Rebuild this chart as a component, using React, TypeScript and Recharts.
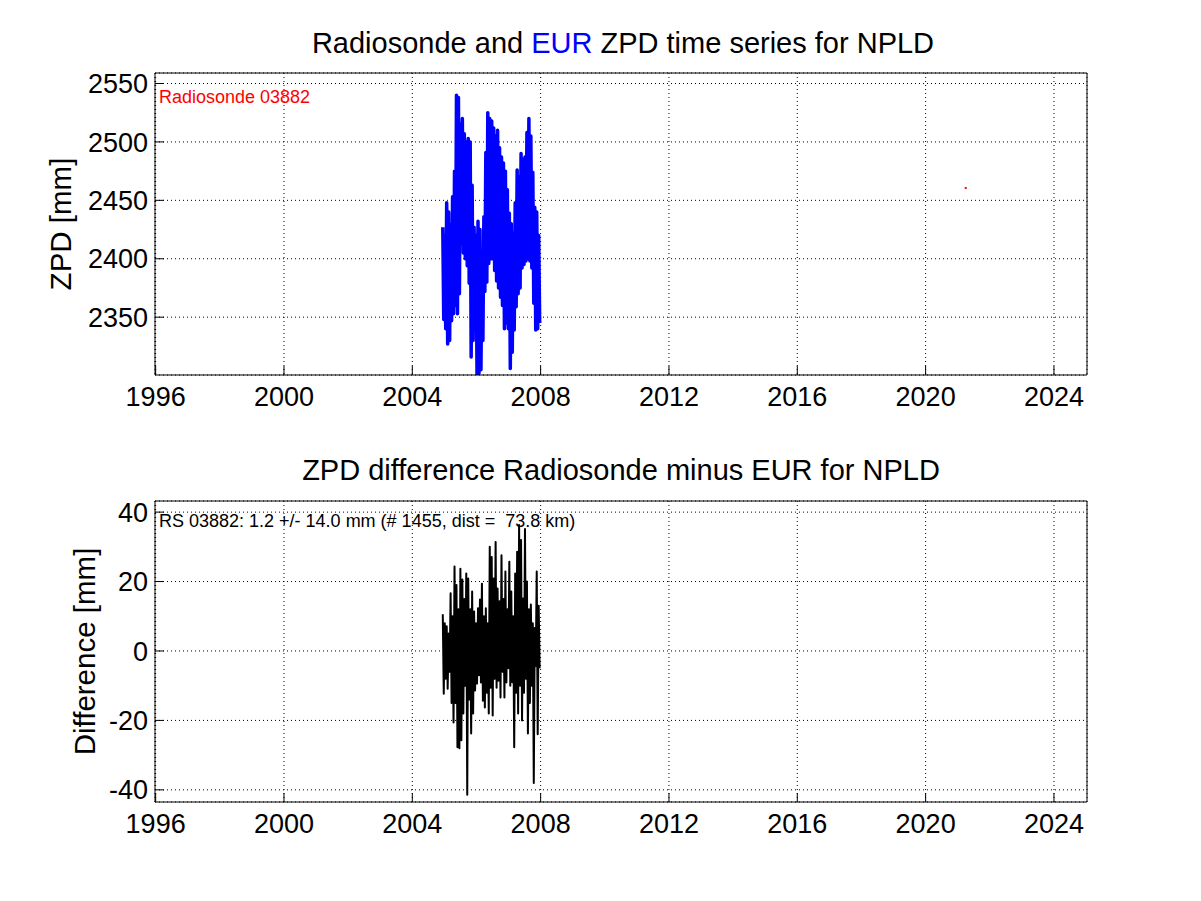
import { ComposedChart, Line, Scatter, XAxis, YAxis, CartesianGrid } from 'recharts'

const FONT = '"Liberation Sans", Arial, Helvetica, sans-serif'

// axes
const yearTicks = [1996, 2000, 2004, 2008, 2012, 2016, 2020, 2024]
const yearDomain = [1995.98, 2025.03]
const zpdTicks = [2350, 2400, 2450, 2500, 2550]
const zpdDomain = [2300.5, 2559]
const diffTicks = [-40, -20, 0, 20, 40]
const diffDomain = [-43.5, 43.2]

// EUR ZPD swings, sampled every seriesStep years from seriesStart
const seriesStart = 2004.95
const seriesStep = 0.061

const zpdUpper = [
  2427, 2420, 2448, 2440, 2429, 2453, 2475, 2540, 2538, 2515,
  2520, 2507, 2500, 2503, 2500, 2463, 2427, 2420, 2432, 2425,
  2401, 2436, 2491, 2525, 2520, 2518, 2512, 2505, 2510, 2495,
  2487, 2482, 2475, 2459, 2439, 2430, 2422, 2448, 2476, 2470,
  2490, 2485, 2487, 2508, 2520, 2505, 2474, 2444, 2440, 2420,
]
const zpdLower = [
  2348, 2340, 2327, 2330, 2347, 2353, 2360, 2353, 2370, 2413,
  2405, 2400, 2394, 2379, 2316, 2330, 2342, 2301, 2302, 2305,
  2330, 2372, 2380, 2396, 2400, 2400, 2390, 2381, 2375, 2367,
  2360, 2340, 2345, 2340, 2306, 2320, 2339, 2359, 2370, 2375,
  2392, 2395, 2398, 2400, 2398, 2392, 2362, 2339, 2340, 2345,
]

// radiosonde minus EUR
const diffUpper = [
  10.6, 8, 7.1, 5, 16.6, 10, 24.3, 19, 12, 23.7,
  20.6, 15, 22.3, 20.9, 12, 17.1, 11.4, 8, 12.3, 14.8,
  19.4, 10, 12.3, 8, 30, 27.1, 20.9, 31.4, 18, 14.3,
  27.6, 15, 22.9, 12, 25.7, 17.1, 10, 22.3, 28.6, 36.3,
  32, 15.1, 35.1, 20, 12, 13.4, 8, 6.6, 22.9, 13,
]
const diffLower = [
  -12.3, -8, -10.9, -6, -15, -20.6, -15, -27.7, -28, -25.7,
  -18, -10, -41.4, -14, -23.8, -18, -11.4, -9.4, -7, -9.1,
  -14.3, -16.3, -12, -18, -10.6, -18.6, -8, -10.6, -8.6, -13.4,
  -6, -13.4, -9.1, -5, -10, -9, -27.7, -12, -18, -10,
  -20, -12, -8, -23.8, -15, -10, -38, -4.3, -24, -5,
]

// single radiosonde ZPD point
const rsTimes = [2021.25]
const rsZpd = [2460.6]

function zigzag(upper: number[], lower: number[]) {
  return upper.flatMap((u, i) => [
    { t: seriesStart + i * seriesStep, v: u },
    { t: seriesStart + (i + 0.5) * seriesStep, v: lower[i] },
  ])
}

const zpdData = zigzag(zpdUpper, zpdLower)
const diffData = zigzag(diffUpper, diffLower)
const rsData = rsTimes.map((t, i) => ({ t, v: rsZpd[i] }))

const tickStyle = { fill: '#000', fontSize: 27, fontFamily: FONT }
const axisLine = { stroke: '#000', strokeWidth: 1, strokeDasharray: 'none' }
const tickLine = { stroke: '#000', strokeWidth: 1 }

const RedDot = (props: any) => (
  <rect x={props.cx - 1} y={props.cy - 1} width={2} height={2} fill="#ff0000" />
)

function Panel({
  height,
  top,
  data,
  color,
  width,
  domain,
  ticks,
  extra,
  marginTop,
  marginBottom,
}: any) {
  return (
    <div style={{ position: 'absolute', left: 0, top }}>
      <ComposedChart
        width={1201}
        height={height}
        margin={{ top: marginTop - 1, right: 113, bottom: marginBottom, left: 0 }}
      >
        <CartesianGrid stroke="#000" strokeDasharray="1 3" />
        <XAxis
          dataKey="t"
          type="number"
          domain={yearDomain}
          ticks={yearTicks}
          allowDataOverflow
          height={40}
          tick={tickStyle}
          tickSize={-9}
          tickMargin={21}
          axisLine={axisLine}
          tickLine={tickLine}
          interval={0}
        />
        <XAxis
          xAxisId="top"
          orientation="top"
          dataKey="t"
          type="number"
          domain={yearDomain}
          ticks={yearTicks}
          allowDataOverflow
          height={1}
          tick={false}
          tickSize={-9}
          axisLine={axisLine}
          tickLine={tickLine}
          interval={0}
        />
        <YAxis
          type="number"
          domain={domain}
          ticks={ticks}
          allowDataOverflow
          width={155}
          tick={tickStyle}
          tickSize={-9}
          tickMargin={16}
          axisLine={axisLine}
          tickLine={tickLine}
          interval={0}
        />
        <YAxis
          yAxisId="right"
          orientation="right"
          type="number"
          domain={domain}
          ticks={ticks}
          allowDataOverflow
          width={1}
          tick={false}
          tickSize={-9}
          axisLine={axisLine}
          tickLine={tickLine}
          interval={0}
        />
        {/* invisible copy so the top and right frame axes are active */}
        <Line
          data={data}
          dataKey="v"
          xAxisId="top"
          yAxisId="right"
          stroke="none"
          dot={false}
          isAnimationActive={false}
        />
        <Line
          data={data}
          dataKey="v"
          stroke={color}
          strokeWidth={width}
          dot={false}
          isAnimationActive={false}
          strokeLinejoin="round"
        />
        {extra}
      </ComposedChart>
    </div>
  )
}

export default function App() {
  return (
    <div
      style={{
        position: 'absolute',
        left: 0,
        top: 0,
        width: 1201,
        height: 901,
        background: '#fff',
        fontFamily: FONT,
      }}
    >
      <Panel
        top={0}
        height={450}
        marginTop={73}
        marginBottom={35}
        data={zpdData}
        color="#0000ff"
        width={3.5}
        domain={zpdDomain}
        ticks={zpdTicks}
        extra={
          <Scatter data={rsData} dataKey="v" shape={RedDot} isAnimationActive={false} />
        }
      />
      <Panel
        top={450}
        height={451}
        marginTop={51}
        marginBottom={59}
        data={diffData}
        color="#000000"
        width={2}
        domain={diffDomain}
        ticks={diffTicks}
      />
      <svg
        width={1201}
        height={901}
        style={{ position: 'absolute', left: 0, top: 0, pointerEvents: 'none' }}
        fontFamily={FONT}
      >
        <text x={623} y={53} textAnchor="middle" fontSize={29} fill="#000">
          Radiosonde and <tspan fill="#0000ff">EUR</tspan> ZPD time series for NPLD
        </text>
        <text x={621} y={480} textAnchor="middle" fontSize={29} fill="#000">
          ZPD difference Radiosonde minus EUR for NPLD
        </text>
        <text
          x={71}
          y={224}
          textAnchor="middle"
          fontSize={29.5}
          fill="#000"
          transform="rotate(-90 71 224)"
        >
          ZPD [mm]
        </text>
        <text
          x={95}
          y={651.5}
          textAnchor="middle"
          fontSize={29.5}
          fill="#000"
          transform="rotate(-90 95 651.5)"
        >
          Difference [mm]
        </text>
        <text x={159} y={103} fontSize={18} fill="#ff0000">
          Radiosonde 03882
        </text>
        <text x={159} y={527} fontSize={18} fill="#000" style={{ whiteSpace: 'pre' }}>
          {'RS 03882: 1.2 +/- 14.0 mm (# 1455, dist =  73.8 km)'}
        </text>
      </svg>
    </div>
  )
}
